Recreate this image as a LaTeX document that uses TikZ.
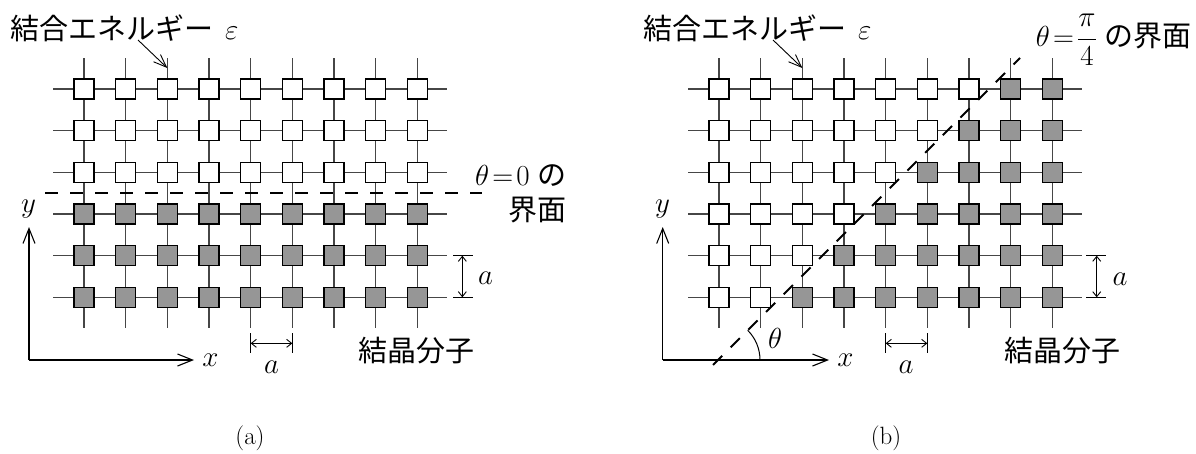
\RequirePackage{fix-cm}
\documentclass[tikz,border=0pt]{standalone}
\usepackage{fontspec}
\newfontfamily\jp{Noto Sans CJK JP}
\usetikzlibrary{arrows.meta}
\definecolor{fillgray}{RGB}{150,150,150}
\definecolor{bondgray}{RGB}{70,70,70}
\pgfdeclarelayer{background}
\pgfsetlayers{background,main}
\begin{document}
\begin{tikzpicture}[x=1pt,y=-1pt,
  site/.style={draw=black,line width=1.3pt,minimum size=20pt,inner sep=0pt,fill=white},
  solid/.style={site,fill=fillgray},
  bond/.style={draw=bondgray,line width=1.1pt},
  lab/.style={font=\fontsize{29}{35}\selectfont,inner sep=0pt},
  subcap/.style={font=\fontsize{25}{30}\selectfont,inner sep=0pt},
  iface/.style={line width=2pt,dash pattern=on 13pt off 12pt},
  axis/.style={line width=1.1pt,-{Straight Barb[length=15pt,width=12pt]}},
  dim/.style={line width=0.9pt,{Straight Barb[length=5pt,width=8pt]}-{Straight Barb[length=5pt,width=8pt]}},
  tickline/.style={line width=1pt},
  ptr/.style={line width=0.9pt,-{Straight Barb[length=13pt,width=10pt]}}
]
\useasboundingbox (0,0) rectangle (1196,453);

% ---------- lattices ----------
\foreach \i in {1,...,9}{
  \foreach \j in {1,...,6}{
    \pgfmathsetmacro\px{84+(\i-1)*41.667}
    \pgfmathsetmacro\qx{719+(\i-1)*41.667}
    \pgfmathsetmacro\py{89+(\j-1)*41.667}
    \pgfmathtruncatemacro\k{9-\j}
    \ifnum\j>3
      \node[solid] (L-\i-\j) at (\px,\py) {};
    \else
      \node[site] (L-\i-\j) at (\px,\py) {};
    \fi
    \ifnum\i<\k
      \node[site] (R-\i-\j) at (\qx,\py) {};
    \else
      \node[solid] (R-\i-\j) at (\qx,\py) {};
    \fi
  }
}
\begin{pgfonlayer}{background}
\foreach \p in {L,R}{
  \foreach \j in {1,...,6}{
    \draw[bond] ([xshift=-31pt]\p-1-\j.center) -- ([xshift=30pt]\p-9-\j.center);
  }
  \foreach \i in {1,...,9}{
    \draw[bond] ([yshift=31pt]\p-\i-1.center) -- ([yshift=-31pt]\p-\i-6.center);
  }
}
\end{pgfonlayer}

% ---------- left panel ----------
\node[lab,anchor=base west] (eL) at (10,39) {{\jp 結合エネルギー}\hspace{12pt}$\varepsilon$};
\coordinate (eLs) at (138,40);
\draw[ptr] (eLs) -- ([yshift=21pt]L-3-1.center);

\coordinate (ifL1) at (45,193);
\coordinate (ifL2) at (482,193);
\draw[iface] (ifL1) -- (ifL2);
\node[lab,anchor=base east] (thL) at (567,185) {$\theta\!=\!0$\hspace{8pt}{\jp の}};
\node[lab,anchor=base east] (kmL) at (567,220) {\jp 界面};

\coordinate (OL) at (29,360);
\coordinate (OLy) at (29,227);
\coordinate (OLx) at (194,360);
\draw[axis] (OL) -- (OLy);
\draw[axis] (OL) -- (OLx);
\node[lab,anchor=base] (yL) at (28.5,212) {$y$};
\node[lab,anchor=base] (xL) at (210.5,366) {$x$};

\draw[tickline] ([yshift=-36pt]L-5-6.center) -- ([yshift=-56pt]L-5-6.center);
\draw[tickline] ([yshift=-36pt]L-6-6.center) -- ([yshift=-56pt]L-6-6.center);
\draw[dim] ([yshift=-46pt]L-5-6.center) -- ([yshift=-46pt]L-6-6.center);
\node[lab,anchor=base] (ahL) at (271.5,373) {$a$};

\draw[tickline] ([xshift=36pt]L-9-5.center) -- ([xshift=56pt]L-9-5.center);
\draw[tickline] ([xshift=36pt]L-9-6.center) -- ([xshift=56pt]L-9-6.center);
\draw[dim] ([xshift=45pt]L-9-5.center) -- ([xshift=45pt]L-9-6.center);
\node[lab,anchor=base] (avL) at (485.5,284) {$a$};

\node[lab,anchor=base] (cmL) at (416.5,361) {\jp 結晶分子};
\node[subcap,anchor=base] (capa) at (250,444) {(a)};

% ---------- right panel ----------
\node[lab,anchor=base west] (eR) at (643,39) {{\jp 結合エネルギー}\hspace{12pt}$\varepsilon$};
\coordinate (eRs) at (773,40);
\draw[ptr] (eRs) -- ([yshift=21pt]R-3-1.center);

\coordinate (ifR1) at (713,365);
\coordinate (ifR2) at (1020,58);
\draw[iface] (ifR1) -- (ifR2);
\node[lab,anchor=base east] (thR) at (1192,46) {$\theta\!=\!\displaystyle\frac{\pi}{4}$\hspace{8pt}{\jp の界面}};

\coordinate (OR) at (662.7,360);
\coordinate (ORy) at (662.7,227);
\coordinate (ORx) at (829,360);
\draw[axis] (OR) -- (ORy);
\draw[axis] (OR) -- (ORx);
\node[lab,anchor=base] (yR) at (662.5,212) {$y$};
\node[lab,anchor=base] (xR) at (845.5,366) {$x$};
\coordinate (arc0) at (760,360);
\draw[line width=1pt] (arc0) arc[start angle=0,end angle=-45,radius=42];
\node[lab,anchor=base] (thA) at (775,348) {$\theta$};

\draw[tickline] ([yshift=-36pt]R-5-6.center) -- ([yshift=-56pt]R-5-6.center);
\draw[tickline] ([yshift=-36pt]R-6-6.center) -- ([yshift=-56pt]R-6-6.center);
\draw[dim] ([yshift=-46pt]R-5-6.center) -- ([yshift=-46pt]R-6-6.center);
\node[lab,anchor=base] (ahR) at (906,373) {$a$};

\draw[tickline] ([xshift=34pt]R-9-5.center) -- ([xshift=54pt]R-9-5.center);
\draw[tickline] ([xshift=34pt]R-9-6.center) -- ([xshift=54pt]R-9-6.center);
\draw[dim] ([xshift=44.4pt]R-9-5.center) -- ([xshift=44.4pt]R-9-6.center);
\node[lab,anchor=base] (avR) at (1120,285) {$a$};

\node[lab,anchor=base] (cmR) at (1062,361) {\jp 結晶分子};
\node[subcap,anchor=base] (capb) at (886,444) {(b)};
\end{tikzpicture}
\end{document}
